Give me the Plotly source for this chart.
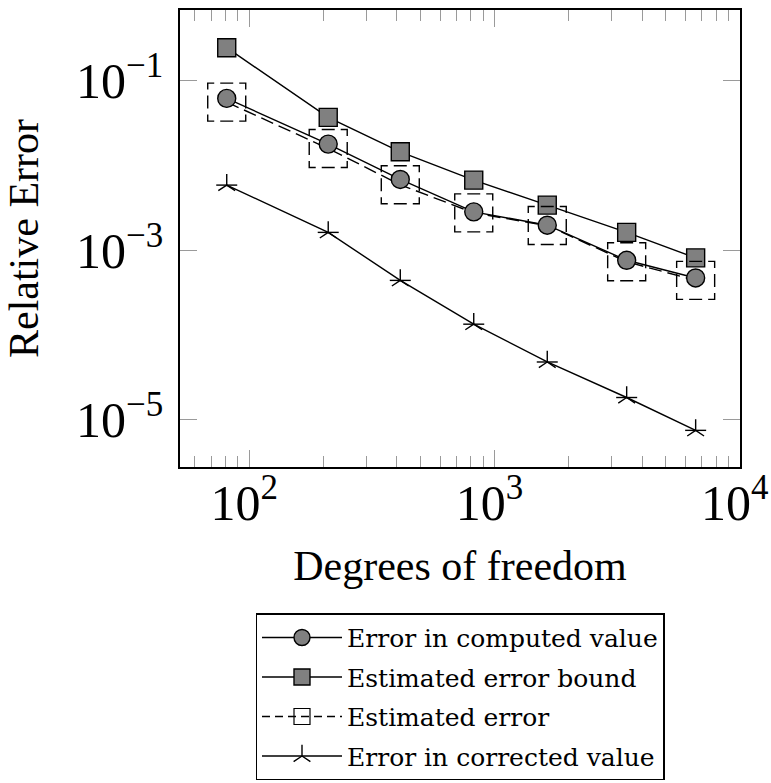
import numpy as np
import plotly.graph_objects as go

# ---- data ----
dof = [81, 210, 413, 823, 1641, 3458, 6607]
err_computed = [0.0616, 0.0178, 0.00682, 0.00283, 0.00197, 7.6e-4, 4.7e-4]
err_bound = [0.244, 0.0368, 0.01445, 0.0067, 0.0034, 0.00162, 8.1e-4]
err_estimated = [0.0557, 0.0158, 0.0059, 0.00275, 0.00195, 7.3e-4, 4.4e-4]
err_corrected = [0.00585, 0.00162, 4.4e-4, 1.34e-4, 4.8e-5, 1.83e-5, 7.5e-6]

names = ["Error in computed value", "Estimated error bound",
         "Estimated error", "Error in corrected value"]

# ---- layout geometry ----
W, H = 771, 783
ML, MR, MT, MB = 180, 31, 10, 316
xr = [1.718, 4.0008]
yr = [-5.557, -0.168]
plot_w = W - ML - MR
plot_h = H - MT - MB
ppd_x = plot_w / (xr[1] - xr[0])
ppd_y = plot_h / (yr[1] - yr[0])

GRAY = "#808080"
DASH = "13px,6px"
LW = 1.4

fig = go.Figure()

# dashed connecting line for estimated error
fig.add_trace(go.Scatter(x=dof, y=err_estimated, mode="lines",
                         line=dict(color="black", width=LW, dash=DASH),
                         showlegend=False, hoverinfo="skip"))

# computed value (circles)
fig.add_trace(go.Scatter(x=dof, y=err_computed, mode="lines+markers", name=names[0],
                         line=dict(color="black", width=LW),
                         marker=dict(symbol="circle", size=18, color=GRAY,
                                     line=dict(color="black", width=1.4)),
                         legendgroup="a", legendrank=1))

# estimated error bound (squares)
fig.add_trace(go.Scatter(x=dof, y=err_bound, mode="lines+markers", name=names[1],
                         line=dict(color="black", width=LW),
                         marker=dict(symbol="square", size=18, color=GRAY,
                                     line=dict(color="black", width=1.4)),
                         legendgroup="b", legendrank=2))

# dashed square marks for the estimated error, one path per point
half = 19.0   # half side in px
off = 6.5     # dash start offset in px
for xv, yv in zip(dof, err_estimated):
    lx, ly = np.log10(xv), np.log10(yv)
    hx, hy, sx = half / ppd_x, half / ppd_y, off / ppd_x
    px = [lx - sx, lx + hx, lx + hx, lx - hx, lx - hx, lx - sx]
    py = [ly + hy, ly + hy, ly - hy, ly - hy, ly + hy, ly + hy]
    fig.add_trace(go.Scatter(x=10 ** np.array(px), y=10 ** np.array(py), mode="lines",
                             line=dict(color="black", width=LW, dash=DASH, simplify=False),
                             showlegend=False, hoverinfo="skip"))

# legend entry for estimated error
fig.add_trace(go.Scatter(x=[None], y=[None], mode="lines+markers", name=names[2],
                         line=dict(color="black", width=LW, dash="8px,5px"),
                         marker=dict(symbol="square-open", size=18, color="black",
                                     line=dict(width=1.2)),
                         legendgroup="c", legendrank=3))

# corrected value (stars)
fig.add_trace(go.Scatter(x=dof, y=err_corrected, mode="lines+markers", name=names[3],
                         line=dict(color="black", width=LW),
                         marker=dict(symbol="y-up-open", size=14, color="black",
                                     line=dict(color="black", width=1.4)),
                         legendgroup="d", legendrank=4))
fig.add_trace(go.Scatter(x=dof, y=err_corrected, mode="markers",
                         marker=dict(symbol="line-ew-open", size=15, color="black",
                                     line=dict(color="black", width=1.4)),
                         showlegend=False, hoverinfo="skip"))

TICKFONT = dict(family="Liberation Serif", size=40, color="black")
TITLEFONT = dict(family="Liberation Serif", size=42, color="black")

fig.update_xaxes(type="log", range=xr, dtick=1,
                 showline=True, linecolor="black", linewidth=1.5, mirror="ticks",
                 ticks="inside", ticklen=17, tickwidth=1, tickcolor="#9a9a9a",
                 minor=dict(ticks="inside", ticklen=11, tickwidth=1, tickcolor="#9a9a9a",
                            dtick="D1", showgrid=False),
                 showgrid=False, zeroline=False, exponentformat="power", showexponent="all",
                 tickfont=TICKFONT, ticklabelstandoff=-7, ticklabeloverflow="allow",
                 ticklabelshift=-5,
                 title=dict(text="Degrees of freedom", font=TITLEFONT, standoff=21))
fig.update_yaxes(type="log", range=yr, dtick=2, tick0=-1,
                 showline=True, linecolor="black", linewidth=1.5, mirror="ticks",
                 ticks="inside", ticklen=17, tickwidth=1, tickcolor="#9a9a9a",
                 showgrid=False, zeroline=False, exponentformat="power", showexponent="all",
                 tickfont=TICKFONT, ticklabelstandoff=7,
                 title=dict(text="Relative Error", font=TITLEFONT, standoff=24))

fig.update_layout(
    width=W, height=H,
    margin=dict(l=ML, r=MR, t=MT, b=MB, autoexpand=False),
    paper_bgcolor="white", plot_bgcolor="white",
    showlegend=True,
    legend=dict(x=0.5, xanchor="center", y=-0.32, yanchor="top",
                orientation="v", traceorder="grouped", tracegroupgap=4,
                bgcolor="white", bordercolor="black", borderwidth=1.5,
                itemwidth=80, itemsizing="trace",
                font=dict(family="DejaVu Serif", size=25, color="black")),
)

fig.write_html("out.html", config={"displayModeBar": False},
               post_script="document.body.style.margin='0px';")
